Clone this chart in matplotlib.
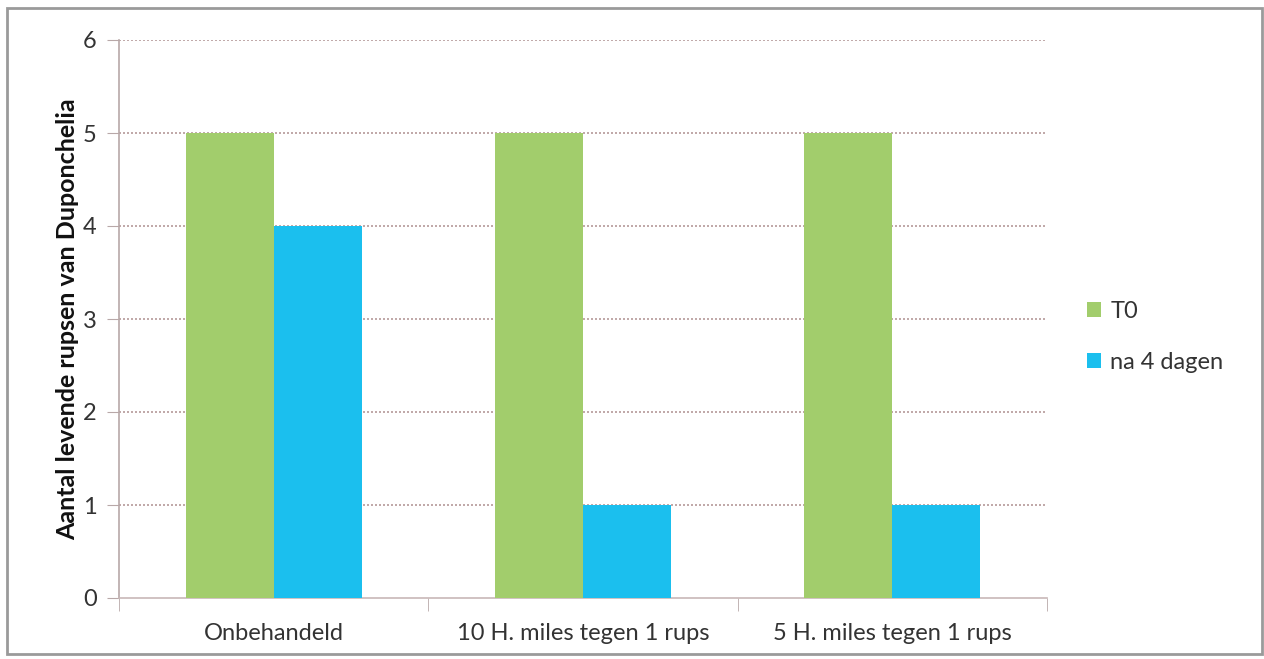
import matplotlib
matplotlib.use("Agg")
import matplotlib.pyplot as plt
from matplotlib.patches import Rectangle
import numpy as np

categories = ["Onbehandeld", "10 H. miles tegen 1 rups", "5 H. miles tegen 1 rups"]
series_names = ["T0", "na 4 dagen"]
t0_values = [5, 5, 5]
na4_values = [4, 1, 1]
y_ticks = [0, 1, 2, 3, 4, 5, 6]
y_label = "Aantal levende rupsen van Duponchelia"

colors = ["#a2cd6c", "#1bbfee"]
plt.rcParams['font.family'] = ['Lato', 'DejaVu Sans']

fig = plt.figure(figsize=(12.64, 6.59), dpi=100)
fig.patch.set_facecolor("white")
# outer frame
fig.patches.append(Rectangle((7/1264, 1-654/659), (1262-7)/1264, (654-8)/659,
                             transform=fig.transFigure, fill=False,
                             edgecolor="#9a9a9a", linewidth=2))

ax = fig.add_axes([119/1264, 1-598/659, (1047-119)/1264, (598-40)/659])
x = np.arange(len(categories))
w = 0.285
ax.bar(x - w/2, t0_values, width=w, color=colors[0], label=series_names[0], zorder=3)
ax.bar(x + w/2, na4_values, width=w, color=colors[1], label=series_names[1], zorder=3)

ax.set_xlim(-0.5, len(categories) - 0.5)
ax.set_ylim(0, 6)
ax.set_yticks(y_ticks)
ax.set_yticklabels([str(v) for v in y_ticks], fontsize=17, color="#333333")
ax.set_xticks(x)
ax.set_xticklabels(categories, fontsize=17, color="#333333")
ax.tick_params(axis='x', length=0, pad=18)
ax.tick_params(axis='y', length=9, color="#b8a8a8", pad=7)
# boundary ticks on x axis
ax.set_xticks(np.arange(-0.5, len(categories)), minor=True)
ax.tick_params(axis='x', which='minor', length=9, color="#b8a8a8", direction='out')

for yv in y_ticks[1:]:
    ax.axhline(yv, color="#b59a9a", linestyle=(0, (1.2, 1.2)), linewidth=1.2, zorder=1)

for s in ["top", "right"]:
    ax.spines[s].set_visible(False)
ax.spines["left"].set_color("#b8a8a8")
ax.spines["bottom"].set_color("#c8b8b8")
ax.spines["left"].set_linewidth(1.2)
ax.spines["bottom"].set_linewidth(1.2)

ax.set_ylabel(y_label, fontsize=18, fontweight="bold", color="#111111", labelpad=3)

leg = ax.legend(loc="center left", bbox_to_anchor=(1.02, 0.468), frameon=False,
                fontsize=17, handlelength=0.6, handleheight=0.6, handletextpad=0.4,
                labelspacing=1.3)
for t in leg.get_texts():
    t.set_color("#333333")

fig.savefig("out.png", dpi=100, facecolor="white")
